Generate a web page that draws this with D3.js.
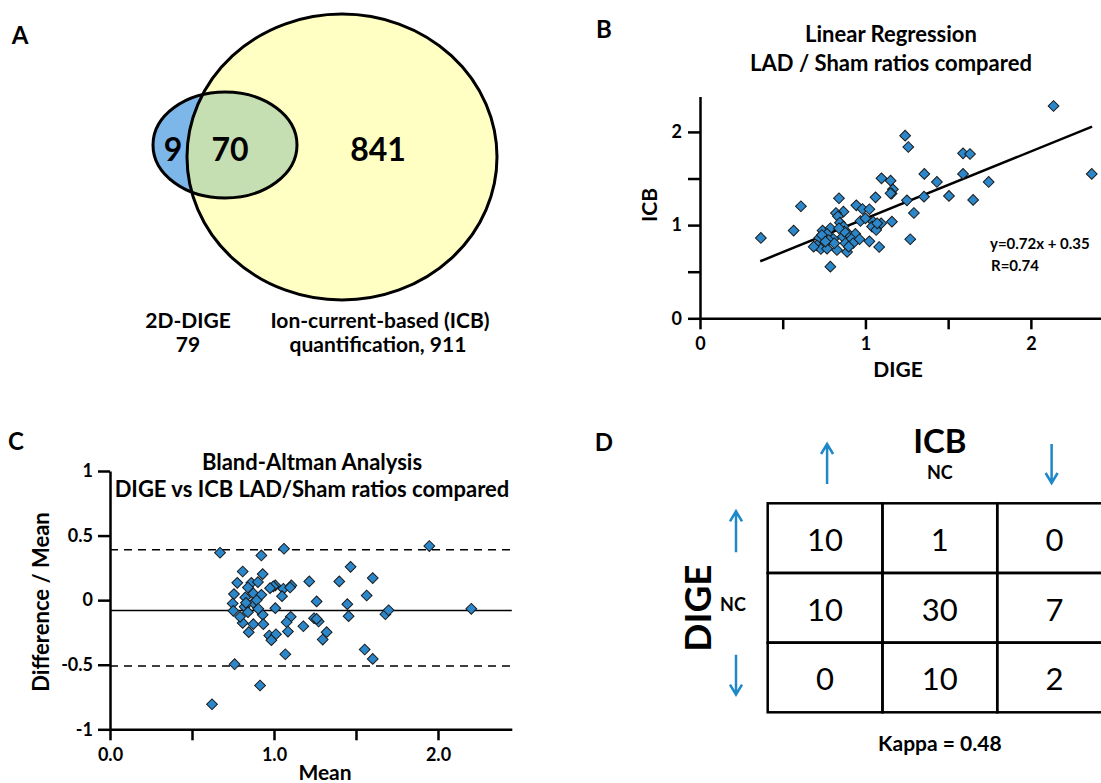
<!DOCTYPE html>
<html>
<head>
<meta charset="utf-8">
<script src="https://cdn.jsdelivr.net/npm/d3@7"></script>
<style>
body{margin:0;background:#fff}
svg text{font-family:Lato,"Open Sans",sans-serif;font-weight:bold;fill:#000}
</style>
</head>
<body>
<script>
// A - Venn counts
var vennCounts = [9, 70, 841];
var vennLabelDige = ["2D-DIGE", "79"];
var vennLabelIcb = ["Ion-current-based (ICB)", "quantification, 911"];

// B - DIGE vs ICB LAD/Sham ratios
var digeRatio = [2.137,1.240,1.259,1.590,1.632,2.368,1.356,1.590,1.097,1.152,
  1.432,1.745,1.166,1.158,0.840,1.061,1.354,1.505,1.251,1.651,
  0.610,0.945,0.982,1.024,0.867,0.822,0.834,1.293,0.970,1.046,
  1.095,1.160,0.846,0.867,1.040,1.065,0.566,0.741,0.788,0.368,
  0.721,0.768,0.806,0.863,0.897,0.939,0.915,0.964,1.024,1.271,
  0.707,0.731,0.768,0.828,0.889,1.083,0.788,0.778,0.879,0.737,
  0.812,0.873,0.925,1.071,0.758,0.840,1.000,1.152,0.687,0.899];
var icbRatio = [2.278,1.960,1.838,1.770,1.763,1.549,1.549,1.549,1.502,1.477,
  1.463,1.463,1.384,1.338,1.288,1.298,1.305,1.313,1.266,1.270,
  1.202,1.212,1.173,1.170,1.144,1.130,1.094,1.130,1.044,1.037,
  1.019,1.037,1.026,0.984,0.984,0.948,0.941,0.941,0.966,0.862,
  0.862,0.905,0.851,0.876,0.905,0.905,0.851,0.848,0.826,0.848,
  0.783,0.744,0.747,0.733,0.712,0.765,0.554,0.840,0.805,0.894,
  0.805,0.930,0.805,1.019,0.823,0.966,1.073,1.341,0.769,0.769];
var regSlope = 0.72, regIntercept = 0.35, regR = 0.74;
var regRange = [0.364, 2.37];
var bTicks = [0, 0.5, 1, 1.5, 2];

// C - Bland-Altman
var baMean = [0.671,0.923,1.061,1.947,0.809,1.467,0.931,0.776,1.215,1.398,
  1.602,0.862,0.902,1.008,1.106,1.057,0.841,0.756,0.825,0.874,
  0.923,1.049,1.565,1.260,0.748,0.874,1.447,0.752,0.821,0.841,
  1.008,0.931,1.102,1.244,1.272,1.455,1.679,1.699,2.203,0.809,
  0.874,0.935,1.077,1.179,0.846,0.971,1.012,0.984,1.085,1.321,
  1.297,1.069,1.553,1.602,0.760,0.915,0.622,0.996,1.098,0.829,
  0.894,1.260,0.793,0.904,0.976];
var baDiff = [0.367,0.346,0.398,0.419,0.222,0.258,0.202,0.134,0.145,0.145,
  0.171,0.134,0.140,0.114,0.114,0.088,0.098,0.047,0.021,0.052,
  0.041,0.031,0.036,-0.010,-0.026,-0.021,-0.031,-0.083,-0.052,-0.093,
  -0.062,-0.114,-0.129,-0.140,-0.165,-0.124,-0.109,-0.078,-0.067,-0.176,
  -0.186,-0.186,-0.171,-0.202,-0.248,-0.274,-0.264,-0.310,-0.243,-0.248,
  -0.305,-0.419,-0.382,-0.455,-0.496,-0.661,-0.806,0.106,0.098,-0.021,
  0.000,-0.145,-0.129,-0.067,0.093];
var baBias = -0.08, baUpper = 0.39, baLower = -0.51;
var cXTicks = [0, 0.5, 1, 1.5, 2];
var cYTicks = [-1, -0.5, 0, 0.5, 1];

// D - agreement table (rows DIGE, cols ICB)
var tableLevels = ["up", "NC", "down"];
var tableCounts = [[10, 1, 0], [10, 30, 7], [0, 10, 2]];
var kappa = 0.48;

var blue = "#2b87c9";
var arrowBlue = "#1f88c8";

var svg = d3.select("body").append("svg").attr("width", 1101).attr("height", 783);

function label(x, y, txt, size, opts) {
  opts = opts || {};
  var t = svg.append("text")
    .attr("x", x).attr("y", y)
    .attr("text-anchor", opts.anchor || "middle")
    .attr("dominant-baseline", "central")
    .attr("font-size", size)
    .text(txt);
  if (opts.normal) t.style("font-weight", "normal");
  if (opts.rotate) t.attr("transform", "rotate(-90," + x + "," + y + ")");
  return t;
}

function styleAxis(g, size) {
  g.attr("font-family", null).attr("font-size", size);
  g.select(".domain").attr("stroke", "#000").attr("stroke-width", 2.5);
  g.selectAll(".tick line").attr("stroke", "#000").attr("stroke-width", 2.5);
}

var diamond = d3.symbol().type(d3.symbolSquare).size(58);

// panel letters
label(20, 34, "A", 24);
label(604, 28, "B", 24);
label(16, 440, "C", 24);
label(604, 441, "D", 24);

// ---------- A : Venn ----------
var big = {cx: 342, cy: 157, rx: 155, ry: 143};
var small = {cx: 225, cy: 145, rx: 72, ry: 53};
var defs = svg.append("defs");
defs.append("clipPath").attr("id", "bigClip")
  .append("ellipse").attr("cx", big.cx).attr("cy", big.cy).attr("rx", big.rx).attr("ry", big.ry);

svg.append("ellipse").attr("cx", big.cx).attr("cy", big.cy).attr("rx", big.rx).attr("ry", big.ry)
  .attr("fill", "#ffffc4");
svg.append("ellipse").attr("cx", small.cx).attr("cy", small.cy).attr("rx", small.rx).attr("ry", small.ry)
  .attr("fill", "#7db6e8");
svg.append("ellipse").attr("cx", small.cx).attr("cy", small.cy).attr("rx", small.rx).attr("ry", small.ry)
  .attr("fill", "#c5dfb2").attr("clip-path", "url(#bigClip)");
svg.append("ellipse").attr("cx", big.cx).attr("cy", big.cy).attr("rx", big.rx).attr("ry", big.ry)
  .attr("fill", "none").attr("stroke", "#000").attr("stroke-width", 3);
svg.append("ellipse").attr("cx", small.cx).attr("cy", small.cy).attr("rx", small.rx).attr("ry", small.ry)
  .attr("fill", "none").attr("stroke", "#000").attr("stroke-width", 3);

label(173, 148, vennCounts[0], 32);
label(230, 148, vennCounts[1], 32);
label(378, 148, vennCounts[2], 32);
label(188, 319, vennLabelDige[0], 21);
label(188, 343, vennLabelDige[1], 21);
label(380, 319, vennLabelIcb[0], 21);
label(378, 343, vennLabelIcb[1], 21);

// ---------- B : linear regression ----------
var xB = d3.scaleLinear().domain([0, 2.43]).range([700, 1102]);
var yB = d3.scaleLinear().domain([0, 2.38]).range([318.3, 96.5]);

label(891, 33, "Linear Regression", 22);
label(891, 62, "LAD / Sham ratios compared", 22);

var gxB = svg.append("g").attr("transform", "translate(0,318.3)")
  .call(d3.axisBottom(xB).tickValues(bTicks).tickSize(11).tickSizeOuter(0).tickPadding(8)
    .tickFormat(function(d){ return d % 1 === 0 ? d : ""; }));
styleAxis(gxB, 18);
var gyB = svg.append("g").attr("transform", "translate(700,0)")
  .call(d3.axisLeft(yB).tickValues(bTicks).tickSize(12).tickSizeOuter(0).tickPadding(6)
    .tickFormat(function(d){ return d % 1 === 0 ? d : ""; }));
styleAxis(gyB, 18);

label(898, 368, "DIGE", 21);
label(648, 205, "ICB", 21, {rotate: true});

svg.append("line")
  .attr("x1", xB(regRange[0])).attr("y1", yB(regSlope * regRange[0] + regIntercept))
  .attr("x2", xB(regRange[1])).attr("y2", yB(regSlope * regRange[1] + regIntercept))
  .attr("stroke", "#000").attr("stroke-width", 2.5);

svg.append("g").selectAll("path").data(digeRatio).enter().append("path")
  .attr("d", diamond)
  .attr("transform", function(d, i){ return "translate(" + xB(d) + "," + yB(icbRatio[i]) + ") rotate(45)"; })
  .attr("fill", blue).attr("stroke", "#1a1a1a").attr("stroke-width", 1);

label(990, 243, "y=" + regSlope + "x + " + regIntercept, 15, {anchor: "start"});
label(991, 265, "R=" + regR, 15, {anchor: "start"});

// ---------- C : Bland-Altman ----------
var xC = d3.scaleLinear().domain([0, 2.45]).range([110, 511.8]);
var yC = d3.scaleLinear().domain([-1, 1]).range([729.3, 471]);

label(312, 461, "Bland-Altman Analysis", 22);
label(312, 488, "DIGE vs ICB LAD/Sham ratios compared", 22);

[baUpper, baLower].forEach(function(v){
  svg.append("line").attr("x1", xC(0)).attr("x2", xC(2.45)).attr("y1", yC(v)).attr("y2", yC(v))
    .attr("stroke", "#000").attr("stroke-width", 1.5).attr("stroke-dasharray", "8,6");
});
svg.append("line").attr("x1", xC(0)).attr("x2", xC(2.45)).attr("y1", yC(baBias)).attr("y2", yC(baBias))
  .attr("stroke", "#000").attr("stroke-width", 1.5);

var gxC = svg.append("g").attr("transform", "translate(0,729.3)")
  .call(d3.axisBottom(xC).tickValues(cXTicks).tickSize(11).tickSizeOuter(0).tickPadding(8)
    .tickFormat(function(d){ return d % 1 === 0 ? d3.format(".1f")(d) : ""; }));
styleAxis(gxC, 18);
var gyC = svg.append("g").attr("transform", "translate(110,0)")
  .call(d3.axisLeft(yC).tickValues(cYTicks).tickSize(12).tickSizeOuter(0).tickPadding(5)
    .tickFormat(function(d){ return d; }));
styleAxis(gyC, 18);

label(325, 771, "Mean", 21);
label(40, 602, "Difference / Mean", 22, {rotate: true});

svg.append("g").selectAll("path").data(baMean).enter().append("path")
  .attr("d", diamond)
  .attr("transform", function(d, i){ return "translate(" + xC(d) + "," + yC(baDiff[i]) + ") rotate(45)"; })
  .attr("fill", blue).attr("stroke", "#1a1a1a").attr("stroke-width", 1);

// ---------- D : agreement table ----------
var colD = d3.scaleBand().domain(tableLevels).range([767.7, 1112]);
var rowD = d3.scaleBand().domain(tableLevels).range([503.3, 712.3]);

tableCounts.forEach(function(row, r){
  row.forEach(function(v, c){
    svg.append("rect")
      .attr("x", colD(tableLevels[c])).attr("y", rowD(tableLevels[r]))
      .attr("width", colD.bandwidth()).attr("height", rowD.bandwidth())
      .attr("fill", "none").attr("stroke", "#000").attr("stroke-width", 2.5);
    label(colD(tableLevels[c]) + colD.bandwidth() / 2, rowD(tableLevels[r]) + rowD.bandwidth() / 2 + 1, v, 31, {normal: true});
  });
});

function arrow(x, y1, y2) {
  // y1 = tip
  var dir = y2 > y1 ? 1 : -1;
  svg.append("path")
    .attr("d", "M" + x + "," + y2 + "L" + x + "," + y1 +
      "M" + (x - 6) + "," + (y1 + dir * 10) + "L" + x + "," + y1 + "L" + (x + 6) + "," + (y1 + dir * 10))
    .attr("fill", "none").attr("stroke", arrowBlue).attr("stroke-width", 2.5);
}
arrow(colD("up") + colD.bandwidth() / 2 + 2, 444, 484);
arrow(colD("down") + colD.bandwidth() / 2 - 3, 483, 444);
arrow(736, rowD("up") + 8, rowD("up") + 49);
arrow(736, rowD("down") + 52, rowD("down") + 12);

label(colD("NC") + colD.bandwidth() / 2, 440, "ICB", 33);
label(colD("NC") + colD.bandwidth() / 2, 472, "NC", 18);
label(733, 604, "NC", 18);
label(696, 608, "DIGE", 37, {rotate: true});
label(colD("NC") + colD.bandwidth() / 2, 742, "Kappa = " + kappa, 21);
</script>
</body>
</html>
